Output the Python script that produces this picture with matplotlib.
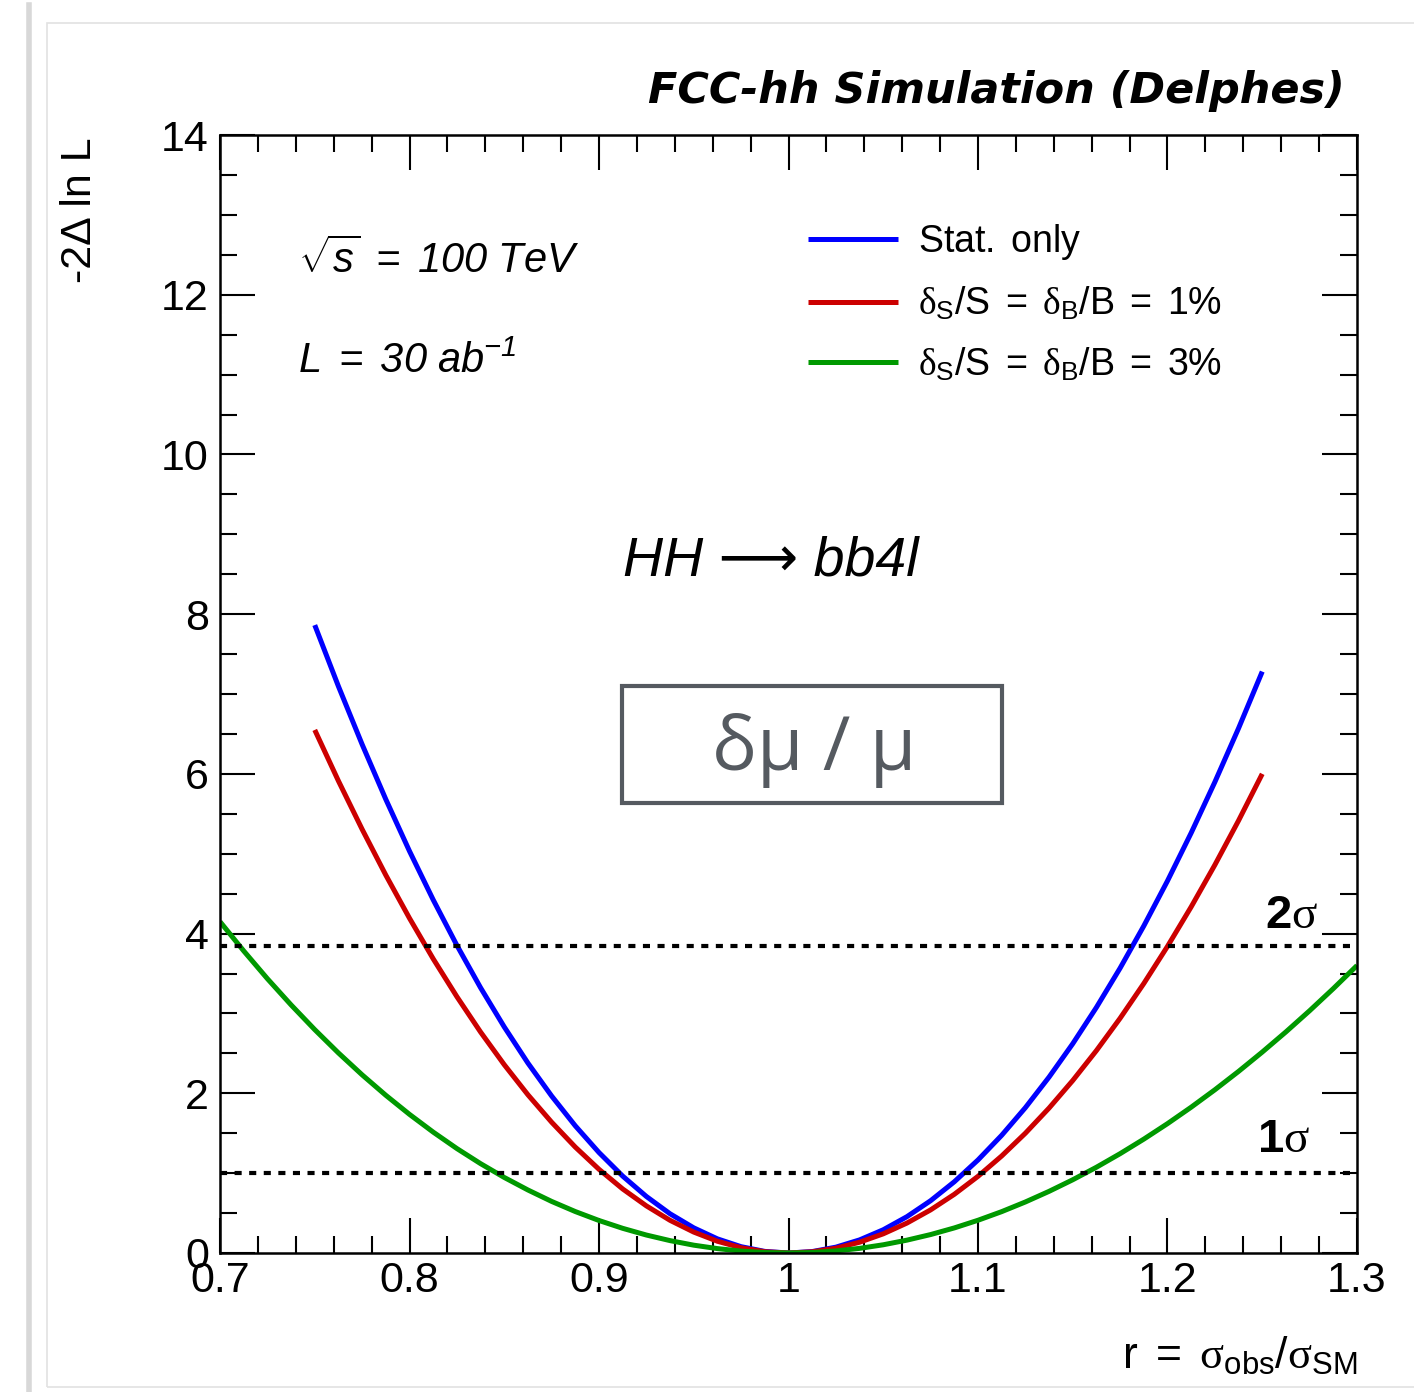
import numpy as np
import matplotlib
matplotlib.use("Agg")
import matplotlib.pyplot as plt
from matplotlib.ticker import MultipleLocator, FixedLocator
from matplotlib.patches import Rectangle
from matplotlib.lines import Line2D

plt.rcParams['font.family'] = ['Liberation Sans', 'DejaVu Sans']
plt.rcParams['mathtext.fontset'] = 'custom'
plt.rcParams['mathtext.rm'] = 'Liberation Sans'
plt.rcParams['mathtext.it'] = 'Liberation Serif'
plt.rcParams['mathtext.bf'] = 'Liberation Sans:bold'
plt.rcParams['mathtext.sf'] = 'Liberation Sans:italic'

# ---------------- data ----------------
r_main = [0.7500, 0.7625, 0.7750, 0.7875, 0.8000, 0.8125, 0.8250, 0.8375, 0.8500, 0.8625,
          0.8750, 0.8875, 0.9000, 0.9125, 0.9250, 0.9375, 0.9500, 0.9625, 0.9750, 0.9875,
          1.0000,
          1.0125, 1.0250, 1.0375, 1.0500, 1.0625, 1.0750, 1.0875, 1.1000, 1.1125, 1.1250,
          1.1375, 1.1500, 1.1625, 1.1750, 1.1875, 1.2000, 1.2125, 1.2250, 1.2375, 1.2500]
nll_stat = [7.863, 7.096, 6.369, 5.681, 5.032, 4.423, 3.853, 3.322, 2.831, 2.378,
            1.966, 1.592, 1.258, 0.963, 0.708, 0.491, 0.315, 0.177, 0.079, 0.020,
            0.000,
            0.018, 0.073, 0.164, 0.291, 0.455, 0.655, 0.892, 1.165, 1.474, 1.820,
            2.203, 2.621, 3.076, 3.568, 4.096, 4.660, 5.261, 5.898, 6.571, 7.281]
nll_sys1 = [6.550, 5.911, 5.306, 4.732, 4.192, 3.684, 3.210, 2.767, 2.358, 1.981,
            1.638, 1.326, 1.048, 0.802, 0.590, 0.409, 0.262, 0.147, 0.066, 0.016,
            0.000,
            0.015, 0.060, 0.135, 0.240, 0.375, 0.540, 0.735, 0.960, 1.215, 1.500,
            1.815, 2.160, 2.535, 2.940, 3.375, 3.840, 4.335, 4.860, 5.415, 6.000]
r_wide = [0.7000, 0.7125, 0.7250, 0.7375, 0.7500, 0.7625, 0.7750, 0.7875, 0.8000, 0.8125,
          0.8250, 0.8375, 0.8500, 0.8625, 0.8750, 0.8875, 0.9000, 0.9125, 0.9250, 0.9375,
          0.9500, 0.9625, 0.9750, 0.9875, 1.0000,
          1.0125, 1.0250, 1.0375, 1.0500, 1.0625, 1.0750, 1.0875, 1.1000, 1.1125, 1.1250,
          1.1375, 1.1500, 1.1625, 1.1750, 1.1875, 1.2000, 1.2125, 1.2250, 1.2375, 1.2500,
          1.2625, 1.2750, 1.2875, 1.3000]
nll_sys3 = [4.149, 3.783, 3.435, 3.107, 2.797, 2.505, 2.231, 1.975, 1.736, 1.514,
            1.308, 1.119, 0.946, 0.789, 0.646, 0.519, 0.407, 0.309, 0.225, 0.155,
            0.098, 0.055, 0.024, 0.006, 0.000,
            0.006, 0.026, 0.058, 0.103, 0.161, 0.231, 0.314, 0.410, 0.518, 0.639,
            0.772, 0.917, 1.074, 1.244, 1.426, 1.620, 1.826, 2.044, 2.274, 2.516,
            2.769, 3.034, 3.311, 3.600]

series_labels = [r'$\mathrm{Stat.\ only}$',
                 r'$\delta_{\mathrm{S}}\mathrm{/S\ =\ }\delta_{\mathrm{B}}\mathrm{/B\ =\ 1\%}$',
                 r'$\delta_{\mathrm{S}}\mathrm{/S\ =\ }\delta_{\mathrm{B}}\mathrm{/B\ =\ 3\%}$']
series_colors = ['#0000ff', '#cc0000', '#009900']

sigma_levels = [1.0, 3.84]
sigma_labels = [r'$\mathbf{1}\sigma$', r'$\mathbf{2}\sigma$']

x_ticks = [0.7, 0.8, 0.9, 1.0, 1.1, 1.2, 1.3]
x_ticklabels = ['0.7', '0.8', '0.9', '1', '1.1', '1.2', '1.3']
y_ticks = [0, 2, 4, 6, 8, 10, 12, 14]
y_ticklabels = ['0', '2', '4', '6', '8', '10', '12', '14']

# ---------------- figure ----------------
W, H = 1414, 1392
fig = plt.figure(figsize=(W / 100, H / 100), dpi=100)
fig.patch.set_facecolor('white')

# screenshot frame
fig.add_artist(Line2D([29 / W, 29 / W], [0, 1 - 5 / H], color='#d8d8d8', lw=4))
fig.add_artist(Rectangle((47 / W, (H - 1387) / H), 2, (1387 - 23) / H,
                         transform=fig.transFigure, fill=False, ec='#e2e2e2', lw=1.2))

L, R, T, B = 220, 1357, 135, 1253
ax = fig.add_axes([L / W, (H - B) / H, (R - L) / W, (B - T) / H])

for xs, ys, lab, col in zip([r_main, r_main, r_wide],
                            [nll_stat, nll_sys1, nll_sys3],
                            series_labels, series_colors):
    ax.plot(xs, ys, color=col, lw=3.6, label=lab, solid_capstyle='butt')

for lvl in sigma_levels:
    ax.axhline(lvl, color='black', lw=3, linestyle=(0, (1.7, 1.8)))

ax.set_xlim(0.7, 1.3)
ax.set_ylim(0, 14)
ax.xaxis.set_major_locator(FixedLocator(x_ticks))
ax.set_xticklabels(x_ticklabels)
ax.yaxis.set_major_locator(FixedLocator(y_ticks))
ax.set_yticklabels(y_ticklabels)
ax.xaxis.set_minor_locator(MultipleLocator(0.02))
ax.yaxis.set_minor_locator(MultipleLocator(0.5))
ax.tick_params(which='both', direction='in', top=True, right=True, width=1.5, colors='black')
ax.tick_params(which='major', length=25, labelsize=31)
ax.tick_params(which='minor', length=12)
ax.tick_params(axis='x', which='major', pad=6)
ax.tick_params(axis='y', which='major', pad=8)
for sp in ax.spines.values():
    sp.set_linewidth(1.8)

# legend
leg = ax.legend(loc='upper left', bbox_to_anchor=(0.517, 0.922), frameon=False,
                fontsize=27, handlelength=2.4, handletextpad=0.55,
                labelspacing=0.62, borderaxespad=0, borderpad=0)

# texts
fig.text(1345 / W, (H - 103) / H, 'FCC-hh Simulation (Delphes)', ha='right', va='baseline',
         fontsize=31, fontweight='bold', fontstyle='italic', family='DejaVu Sans')
ax.text((298 - L) / (R - L), (B - 273) / (B - T), r'$\sqrt{\mathsf{s}}\mathsf{\ =\ 100\ TeV}$',
        transform=ax.transAxes, fontsize=30, ha='left', va='baseline')
ax.text((298 - L) / (R - L), (B - 373) / (B - T), r'$\mathsf{L\ =\ 30\ ab^{-1}}$',
        transform=ax.transAxes, fontsize=30, ha='left', va='baseline')
ax.text((623 - L) / (R - L), (B - 576) / (B - T), 'HH \u27f6 bb4l',
        transform=ax.transAxes, fontsize=40, fontstyle='italic', ha='left', va='baseline',
        family=['Liberation Sans', 'DejaVu Sans'])

ax.add_patch(Rectangle(((622 - L) / (R - L), (B - 803) / (B - T)),
                       (1002 - 622) / (R - L), (803 - 686) / (B - T),
                       transform=ax.transAxes, fill=False, ec='#555a60', lw=3, zorder=5))
ax.text((814 - L) / (R - L), (B - 770) / (B - T), '\u03b4\u03bc / \u03bc',
        transform=ax.transAxes, fontsize=54, family='Open Sans', color='#555a60',
        ha='center', va='baseline')

ax.text((1318 - L) / (R - L), (B - 928) / (B - T), sigma_labels[1],
        transform=ax.transAxes, fontsize=34, ha='right', va='baseline')
ax.text((1310 - L) / (R - L), (B - 1152) / (B - T), sigma_labels[0],
        transform=ax.transAxes, fontsize=34, ha='right', va='baseline')

fig.text(80 / W, (H - 137) / H, '-2\u0394 ln L', rotation=90, ha='center', va='top', fontsize=31)
fig.text(1357 / W, (H - 1368) / H, r'$\mathrm{r\ =\ }\sigma_{\mathrm{obs}}\mathrm{/}\sigma_{\mathrm{SM}}$',
         ha='right', va='baseline', fontsize=32)

fig.savefig('out.png', dpi=100, facecolor='white')
